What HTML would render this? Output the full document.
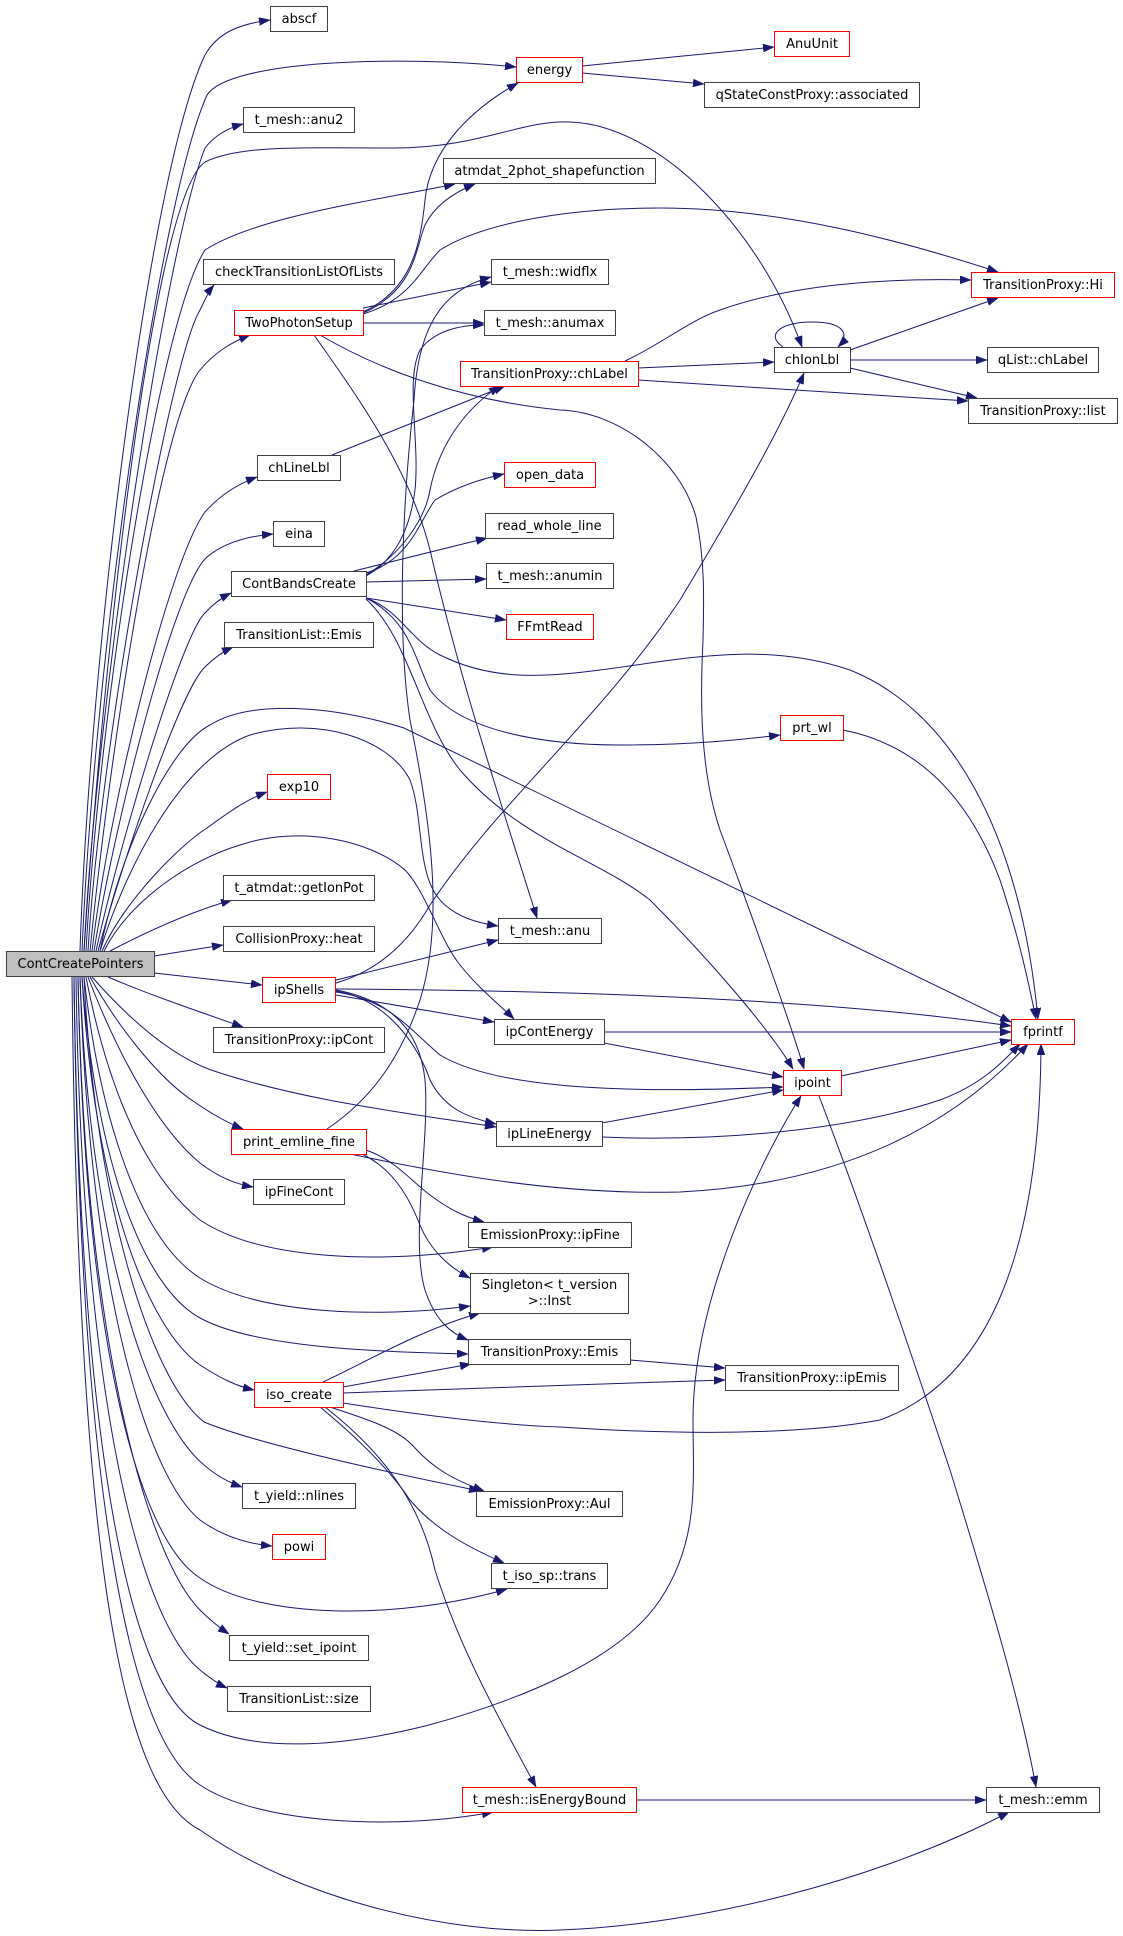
<!DOCTYPE html>
<html><head><meta charset="utf-8"><style>
html,body{margin:0;padding:0;background:#fff;}
svg{display:block;}
text{font-family:"DejaVu Sans","Liberation Sans",sans-serif;font-size:13px;fill:#000;}
.e{fill:none;stroke:#191970;stroke-width:1;}
.n{fill:#fff;stroke:#404040;stroke-width:1;}
.r{fill:#fff;stroke:#ff0000;stroke-width:1;}
.g{fill:#bfbfbf;stroke:#404040;stroke-width:1;}
</style></head><body>
<svg width="1123" height="1936" viewBox="0 0 1123 1936" xmlns="http://www.w3.org/2000/svg">
<defs><marker id="a" markerWidth="11" markerHeight="8" refX="11" refY="4" orient="auto" markerUnits="userSpaceOnUse"><path d="M0,0 L11,4 L0,8 z" fill="#191970" stroke="#191970" stroke-width="0.5"/></marker></defs>
<g marker-end="url(#a)">
<path class="e" marker-end="url(#a)" d="M80,951 C90,650 150,170 205,55 C218,32 240,24 270,20"/>
<path class="e" marker-end="url(#a)" d="M82,951 C95,650 160,200 207,95 C230,60 400,55 516,67"/>
<path class="e" marker-end="url(#a)" d="M84,951 C97,700 165,250 205,148 C215,135 228,128 243,124"/>
<path class="e" marker-end="url(#a)" d="M84,951 C100,700 150,200 205,162 C240,145 300,148 393,148 C480,148 520,120 570,122 C660,125 760,230 802,347"/>
<path class="e" marker-end="url(#a)" d="M86,951 C100,700 160,320 205,250 C260,215 380,200 455,184"/>
<path class="e" marker-end="url(#a)" d="M88,951 C100,750 170,360 200,310 C205,300 208,292 214,285"/>
<path class="e" marker-end="url(#a)" d="M90,951 C110,750 160,420 200,370 C215,352 232,342 250,335"/>
<path class="e" marker-end="url(#a)" d="M92,951 C110,800 170,560 205,512 C220,495 238,484 257,477"/>
<path class="e" marker-end="url(#a)" d="M94,951 C115,820 175,585 207,557 C225,542 250,536 273,534"/>
<path class="e" marker-end="url(#a)" d="M96,951 C118,850 180,640 204,614 C212,605 221,598 231,593"/>
<path class="e" marker-end="url(#a)" d="M98,951 C120,870 180,690 205,667 C212,660 222,652 233,647"/>
<path class="e" marker-end="url(#a)" d="M102,951 C125,900 180,845 207,828 C225,815 245,800 267,792"/>
<path class="e" marker-end="url(#a)" d="M100,951 C120,850 170,745 210,725 C250,700 330,705 404,728 L1011,1022"/>
<path class="e" marker-end="url(#a)" d="M100,951 C125,870 180,760 250,735 C320,715 390,740 410,780 C425,820 415,880 445,905 C460,918 478,923 498,926"/>
<path class="e" marker-end="url(#a)" d="M104,951 C130,900 190,860 240,845 C300,825 370,840 405,870 C425,890 440,940 460,965 C480,990 500,1005 514,1019"/>
<path class="e" marker-end="url(#a)" d="M110,951 C150,930 190,912 232,900"/>
<path class="e" marker-end="url(#a)" d="M154,956 L223,945"/>
<path class="e" marker-end="url(#a)" d="M154,973 L262,985"/>
<path class="e" marker-end="url(#a)" d="M108,977 C150,995 200,1012 243,1027"/>
<path class="e" marker-end="url(#a)" d="M92,977 C130,1020 170,1055 211,1070 C300,1100 400,1112 496,1127"/>
<path class="e" marker-end="url(#a)" d="M90,977 C120,1030 160,1080 196,1103 C212,1114 228,1123 243,1129"/>
<path class="e" marker-end="url(#a)" d="M88,977 C120,1060 160,1130 200,1163 C218,1177 235,1184 253,1187"/>
<path class="e" marker-end="url(#a)" d="M86,977 C110,1100 150,1180 200,1220 C260,1260 380,1265 493,1247"/>
<path class="e" marker-end="url(#a)" d="M84,977 C100,1120 140,1240 200,1278 C260,1315 380,1318 470,1306"/>
<path class="e" marker-end="url(#a)" d="M82,977 C95,1150 140,1290 204,1320 C260,1348 380,1352 468,1354"/>
<path class="e" marker-end="url(#a)" d="M82,977 C95,1200 150,1330 200,1365 C220,1378 236,1386 254,1390"/>
<path class="e" marker-end="url(#a)" d="M84,977 C95,1200 150,1380 204,1422 C260,1445 400,1475 480,1491"/>
<path class="e" marker-end="url(#a)" d="M80,977 C90,1250 150,1420 204,1465 C218,1477 230,1483 242,1487"/>
<path class="e" marker-end="url(#a)" d="M80,977 C90,1300 150,1480 200,1520 C225,1538 250,1544 272,1546"/>
<path class="e" marker-end="url(#a)" d="M78,977 C85,1350 140,1540 200,1578 C260,1620 400,1620 507,1589"/>
<path class="e" marker-end="url(#a)" d="M78,977 C85,1350 150,1560 200,1610 C210,1620 220,1628 229,1634"/>
<path class="e" marker-end="url(#a)" d="M76,977 C82,1400 140,1620 200,1670 C210,1678 218,1684 227,1688"/>
<path class="e" marker-end="url(#a)" d="M74,977 C80,1450 130,1690 200,1725 C260,1755 350,1745 429,1725 C520,1700 620,1660 660,1600 C700,1540 693,1480 693,1420 C693,1300 760,1160 801,1096"/>
<path class="e" marker-end="url(#a)" d="M74,977 C80,1500 130,1740 200,1785 C260,1825 400,1830 493,1812"/>
<path class="e" marker-end="url(#a)" d="M72,977 C78,1550 120,1790 200,1830 C300,1900 450,1935 560,1930 C700,1925 880,1880 1009,1812"/>

<path class="e" marker-end="url(#a)" d="M582,66 L774,47"/>
<path class="e" marker-end="url(#a)" d="M582,73 L704,84"/>
<path class="e" marker-end="url(#a)" d="M363,312 C410,290 420,250 425,200 C430,150 470,110 518,83"/>
<path class="e" marker-end="url(#a)" d="M363,313 C415,290 415,250 425,225 C435,205 455,192 475,184"/>
<path class="e" marker-end="url(#a)" d="M363,314 C410,300 420,270 440,250 C480,225 560,208 660,208 C780,208 900,240 998,272"/>
<path class="e" marker-end="url(#a)" d="M363,308 L491,282"/>
<path class="e" marker-end="url(#a)" d="M363,323 L484,323"/>
<path class="e" marker-end="url(#a)" d="M314,335 C360,400 410,470 430,550 C460,680 500,800 537,918"/>
<path class="e" marker-end="url(#a)" d="M320,335 C380,370 460,400 560,410 C620,412 680,460 696,517 C705,560 704,600 703,640 C700,700 700,770 720,830 C735,870 790,1020 804,1069"/>
<path class="e" marker-end="url(#a)" d="M332,455 L505,386"/>
<path class="e" marker-end="url(#a)" d="M366,575 C400,555 425,520 430,490 C440,440 470,405 500,386"/>
<path class="e" marker-end="url(#a)" d="M366,573 C410,560 420,520 435,500 C460,485 485,478 504,474"/>
<path class="e" marker-end="url(#a)" d="M354,571 L487,538"/>
<path class="e" marker-end="url(#a)" d="M366,582 L486,579"/>
<path class="e" marker-end="url(#a)" d="M366,598 L506,620"/>
<path class="e" marker-end="url(#a)" d="M366,576 C395,560 410,530 415,490 C420,440 405,380 420,350 C435,330 460,325 484,325"/>
<path class="e" marker-end="url(#a)" d="M366,598 C400,610 410,640 440,655 C490,680 540,678 600,670 C680,660 760,640 850,670 C950,710 1020,830 1038,1019"/>
<path class="e" marker-end="url(#a)" d="M366,598 C410,620 415,660 430,690 C460,730 540,745 620,745 C690,745 740,740 780,735"/>
<path class="e" marker-end="url(#a)" d="M366,599 C410,640 420,720 460,770 C520,840 600,860 650,900 C710,960 770,1030 793,1069"/>
<path class="e" marker-end="url(#a)" d="M625,361 C660,345 690,320 720,310 C790,285 880,278 971,280"/>
<path class="e" marker-end="url(#a)" d="M638,368 L774,362"/>
<path class="e" marker-end="url(#a)" d="M638,380 L968,401"/>
<path class="e" marker-end="url(#a)" d="M783,347 C765,335 780,322 812,322 C845,322 850,335 838,347"/>
<path class="e" marker-end="url(#a)" d="M850,350 L998,298"/>
<path class="e" marker-end="url(#a)" d="M850,360 L987,360"/>
<path class="e" marker-end="url(#a)" d="M850,368 L977,398"/>
<path class="e" marker-end="url(#a)" d="M336,980 L498,940"/>
<path class="e" marker-end="url(#a)" d="M336,983 C380,970 410,940 430,905 C500,800 600,720 680,600 C740,500 780,430 804,373"/>
<path class="e" marker-end="url(#a)" d="M336,989 C500,990 800,995 1011,1026"/>
<path class="e" marker-end="url(#a)" d="M336,995 L494,1022"/>
<path class="e" marker-end="url(#a)" d="M336,992 C390,1000 410,1030 440,1055 C490,1085 600,1095 783,1087"/>
<path class="e" marker-end="url(#a)" d="M336,991 C390,1000 420,1050 430,1080 C445,1110 470,1118 496,1124"/>
<path class="e" marker-end="url(#a)" d="M336,990 C390,1000 420,1030 425,1080 C430,1140 410,1240 425,1290 C435,1320 450,1333 468,1340"/>
<path class="e" marker-end="url(#a)" d="M327,1129 C370,1100 400,1060 420,1000 C445,920 430,820 410,720 C395,620 405,480 414,400 C418,330 440,290 491,277"/>
<path class="e" marker-end="url(#a)" d="M350,1154 C450,1175 560,1195 680,1192 C820,1185 940,1140 1028,1044"/>
<path class="e" marker-end="url(#a)" d="M366,1150 C395,1160 410,1180 430,1195 C450,1210 465,1217 484,1222"/>
<path class="e" marker-end="url(#a)" d="M362,1154 C395,1170 410,1200 420,1225 C430,1250 450,1268 470,1278"/>
<path class="e" marker-end="url(#a)" d="M604,1032 L1011,1032"/>
<path class="e" marker-end="url(#a)" d="M604,1043 L783,1077"/>
<path class="e" marker-end="url(#a)" d="M602,1123 L783,1090"/>
<path class="e" marker-end="url(#a)" d="M602,1137 C720,1142 850,1130 940,1100 C980,1085 1000,1065 1020,1044"/>
<path class="e" marker-end="url(#a)" d="M841,1076 L1011,1040"/>
<path class="e" marker-end="url(#a)" d="M819,1096 C870,1230 920,1380 950,1470 C990,1600 1020,1700 1036,1787"/>
<path class="e" marker-end="url(#a)" d="M843,730 C920,745 970,800 1000,880 C1020,940 1030,990 1036,1019"/>
<path class="e" marker-end="url(#a)" d="M630,1360 L725,1368"/>
<path class="e" marker-end="url(#a)" d="M323,1382 C370,1360 420,1330 480,1313"/>
<path class="e" marker-end="url(#a)" d="M343,1387 L471,1364"/>
<path class="e" marker-end="url(#a)" d="M343,1393 C450,1389 600,1384 725,1380"/>
<path class="e" marker-end="url(#a)" d="M343,1403 C420,1415 500,1425 560,1427 C680,1435 800,1435 880,1420 C990,1380 1040,1250 1041,1044"/>
<path class="e" marker-end="url(#a)" d="M330,1407 C370,1420 400,1430 415,1448 C435,1470 455,1480 484,1491"/>
<path class="e" marker-end="url(#a)" d="M320,1407 C360,1440 390,1470 410,1500 C435,1530 470,1548 504,1563"/>
<path class="e" marker-end="url(#a)" d="M325,1407 C380,1450 420,1500 435,1570 C460,1650 500,1720 536,1787"/>
<path class="e" marker-end="url(#a)" d="M636,1800 L986,1800"/>
</g>

<g text-anchor="middle">
<rect class="n" x="270.5" y="6.5" width="57" height="25"/><text x="299" y="23">abscf</text>
<rect class="r" x="516.5" y="57.5" width="66" height="25"/><text x="549.5" y="74">energy</text>
<rect class="n" x="243.5" y="107.5" width="111" height="25"/><text x="299" y="124">t_mesh::anu2</text>
<rect class="n" x="443.5" y="158.5" width="212" height="25"/><text x="549.5" y="175">atmdat_2phot_shapefunction</text>
<rect class="n" x="203.5" y="259.5" width="191" height="25"/><text x="299" y="276">checkTransitionListOfLists</text>
<rect class="r" x="234.5" y="310.5" width="129" height="25"/><text x="299" y="327">TwoPhotonSetup</text>
<rect class="n" x="491.5" y="259.5" width="117" height="25"/><text x="550" y="276">t_mesh::widflx</text>
<rect class="n" x="484.5" y="310.5" width="131" height="25"/><text x="550" y="327">t_mesh::anumax</text>
<rect class="r" x="460.5" y="361.5" width="178" height="25"/><text x="549.5" y="378">TransitionProxy::chLabel</text>
<rect class="r" x="774.5" y="31.5" width="75" height="25"/><text x="812" y="48">AnuUnit</text>
<rect class="n" x="704.5" y="82.5" width="215" height="25"/><text x="812" y="99">qStateConstProxy::associated</text>
<rect class="r" x="971.5" y="272.5" width="143" height="25"/><text x="1043" y="289">TransitionProxy::Hi</text>
<rect class="n" x="774.5" y="347.5" width="76" height="25"/><text x="812" y="364">chIonLbl</text>
<rect class="n" x="987.5" y="347.5" width="111" height="25"/><text x="1043" y="364">qList::chLabel</text>
<rect class="n" x="968.5" y="398.5" width="149" height="25"/><text x="1043" y="415">TransitionProxy::list</text>
<rect class="n" x="257.5" y="455.5" width="83" height="25"/><text x="299" y="472">chLineLbl</text>
<rect class="n" x="273.5" y="521.5" width="51" height="25"/><text x="299" y="538">eina</text>
<rect class="n" x="231.5" y="571.5" width="135" height="25"/><text x="299" y="588">ContBandsCreate</text>
<rect class="n" x="224.5" y="622.5" width="149" height="25"/><text x="299" y="639">TransitionList::Emis</text>
<rect class="r" x="504.5" y="462.5" width="91" height="25"/><text x="550" y="479">open_data</text>
<rect class="n" x="485.5" y="513.5" width="128" height="25"/><text x="549.5" y="530">read_whole_line</text>
<rect class="n" x="486.5" y="563.5" width="127" height="25"/><text x="550" y="580">t_mesh::anumin</text>
<rect class="r" x="506.5" y="614.5" width="87" height="25"/><text x="550" y="631">FFmtRead</text>
<rect class="r" x="780.5" y="715.5" width="63" height="25"/><text x="812" y="732">prt_wl</text>
<rect class="r" x="267.5" y="774.5" width="63" height="25"/><text x="299" y="791">exp10</text>
<rect class="n" x="223.5" y="875.5" width="151" height="25"/><text x="299" y="892">t_atmdat::getIonPot</text>
<rect class="n" x="498.5" y="918.5" width="103" height="25"/><text x="550" y="935">t_mesh::anu</text>
<rect class="n" x="223.5" y="926.5" width="151" height="25"/><text x="299" y="943">CollisionProxy::heat</text>
<rect class="g" x="6.5" y="951.5" width="148" height="25"/><text x="80.5" y="968">ContCreatePointers</text>
<rect class="r" x="262.5" y="977.5" width="73" height="25"/><text x="299" y="994">ipShells</text>
<rect class="n" x="494.5" y="1019.5" width="110" height="25"/><text x="549.5" y="1036">ipContEnergy</text>
<rect class="r" x="1011.5" y="1019.5" width="63" height="25"/><text x="1043" y="1036">fprintf</text>
<rect class="n" x="213.5" y="1027.5" width="171" height="25"/><text x="299" y="1044">TransitionProxy::ipCont</text>
<rect class="r" x="783.5" y="1070.5" width="58" height="25"/><text x="812.5" y="1087">ipoint</text>
<rect class="r" x="231.5" y="1129.5" width="135" height="25"/><text x="299" y="1146">print_emline_fine</text>
<rect class="n" x="496.5" y="1121.5" width="106" height="25"/><text x="549.5" y="1138">ipLineEnergy</text>
<rect class="n" x="253.5" y="1179.5" width="91" height="25"/><text x="299" y="1196">ipFineCont</text>
<rect class="n" x="468.5" y="1222.5" width="163" height="25"/><text x="550" y="1239">EmissionProxy::ipFine</text>
<rect class="n" x="470.5" y="1273.5" width="158" height="40"/><text x="549.5" y="1289">Singleton&lt; t_version</text><text x="549.5" y="1305">&gt;::Inst</text>
<rect class="n" x="468.5" y="1339.5" width="162" height="25"/><text x="549.5" y="1356">TransitionProxy::Emis</text>
<rect class="n" x="725.5" y="1365.5" width="173" height="25"/><text x="812" y="1382">TransitionProxy::ipEmis</text>
<rect class="r" x="254.5" y="1382.5" width="89" height="25"/><text x="299" y="1399">iso_create</text>
<rect class="n" x="242.5" y="1483.5" width="113" height="25"/><text x="299" y="1500">t_yield::nlines</text>
<rect class="n" x="476.5" y="1491.5" width="146" height="25"/><text x="549.5" y="1508">EmissionProxy::Aul</text>
<rect class="r" x="272.5" y="1534.5" width="53" height="25"/><text x="299" y="1551">powi</text>
<rect class="n" x="491.5" y="1563.5" width="116" height="25"/><text x="549.5" y="1580">t_iso_sp::trans</text>
<rect class="n" x="229.5" y="1635.5" width="139" height="25"/><text x="299" y="1652">t_yield::set_ipoint</text>
<rect class="n" x="227.5" y="1686.5" width="143" height="25"/><text x="299" y="1703">TransitionList::size</text>
<rect class="r" x="462.5" y="1787.5" width="174" height="25"/><text x="549.5" y="1804">t_mesh::isEnergyBound</text>
<rect class="n" x="986.5" y="1787.5" width="113" height="25"/><text x="1043" y="1804">t_mesh::emm</text>
</g>
</svg>
</body></html>
